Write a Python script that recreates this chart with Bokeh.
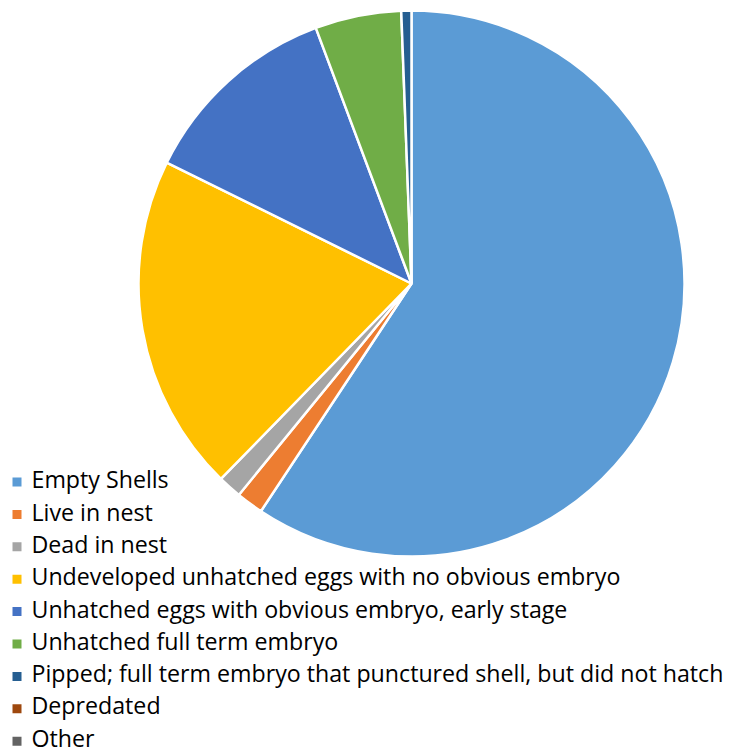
from bokeh.plotting import figure
from bokeh.models import Range1d
from bokeh.core.properties import value
from bokeh.embed import file_html
from bokeh.resources import INLINE
import math

categories = [
    "Empty Shells",
    "Live in nest",
    "Dead in nest",
    "Undeveloped unhatched eggs with no obvious embryo",
    "Unhatched eggs with obvious embryo, early stage",
    "Unhatched full term embryo",
    "Pipped; full term embryo that punctured shell, but did not hatch",
    "Depredated",
    "Other",
]
percent = [59.3, 1.6, 1.4, 20.0, 12.0, 5.1, 0.6, 0.0, 0.0]
colors = ["#5B9BD5", "#ED7D31", "#A5A5A5", "#FFC000", "#4472C4",
          "#70AD47", "#255E91", "#9E480E", "#636363"]

W, H = 732, 753
total = sum(percent)
starts, ends = [], []
cum = 0.0
for v in percent:
    a0 = math.pi / 2 - 2 * math.pi * cum / total
    cum += v
    a1 = math.pi / 2 - 2 * math.pi * cum / total
    starts.append(a0)
    ends.append(a1)

p = figure(width=W, height=H, output_backend="svg", toolbar_location=None,
           x_range=Range1d(0, W), y_range=Range1d(0, H), min_border=0)
p.axis.visible = False
p.grid.visible = False
p.outline_line_color = None
p.background_fill_color = "white"

cx, cy, r = 411, H - 283, 273
idx = [i for i, v in enumerate(percent) if v > 0]
p.wedge(x=[cx] * len(idx), y=[cy] * len(idx), radius=r,
        start_angle=[starts[i] for i in idx], end_angle=[ends[i] for i in idx],
        direction="clock", fill_color=[colors[i] for i in idx],
        line_color="white", line_width=2.5)

n = len(categories)
sq_y = [H - (481.5 + 32.4 * i) for i in range(n)]
tx_y = [H - (478.8 + 32.3 * i) for i in range(n)]
p.rect(x=[16.5] * n, y=sq_y, width=9, height=9, fill_color=colors, line_color=None)
p.text(x=[31] * n, y=tx_y, text=categories,
       text_font=value("Open Sans"), text_font_size="23.2px",
       text_baseline="middle", text_align="left", text_color="#000000")

open("out.html", "w").write(file_html(p, INLINE))
